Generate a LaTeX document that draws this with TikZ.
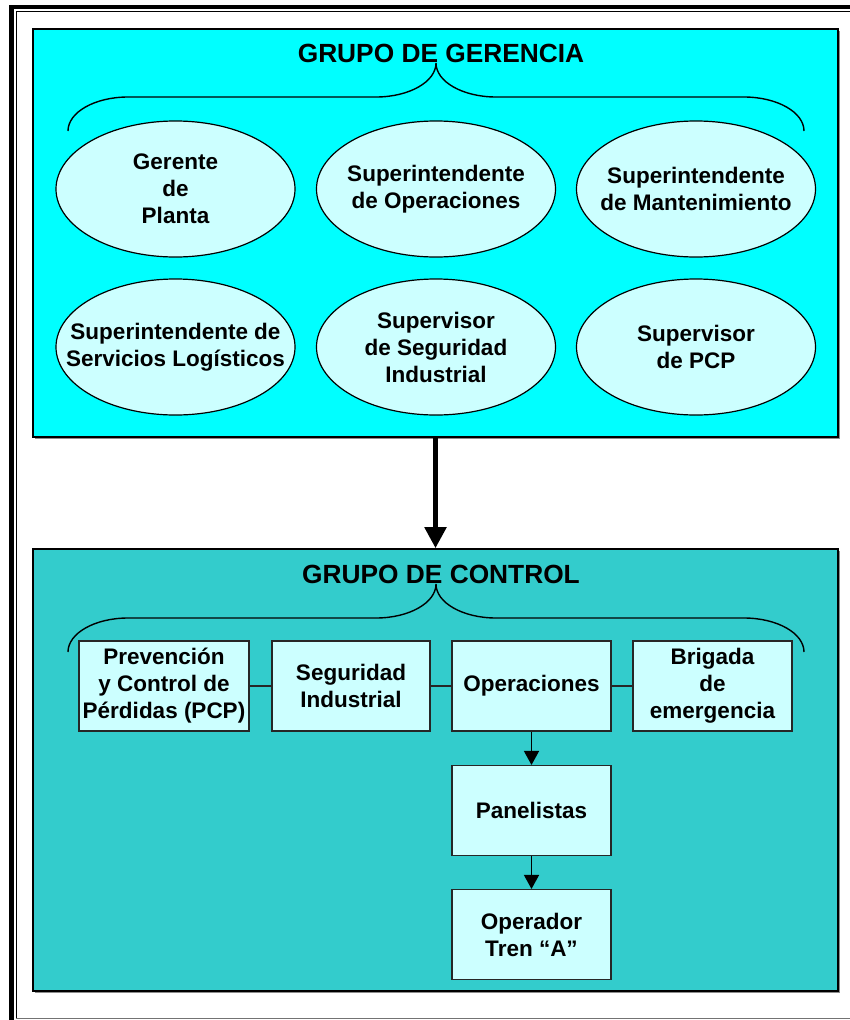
\documentclass[tikz,border=0pt]{standalone}
\usepackage{fontspec}
\setmainfont{Liberation Sans}
\usetikzlibrary{shapes.geometric,arrows.meta}
\definecolor{gerencia}{RGB}{0,255,255}
\definecolor{control}{RGB}{51,204,204}
\definecolor{pale}{RGB}{204,255,255}

\begin{document}
\begin{tikzpicture}[x=1pt,y=-1pt,
  grupo/.style={rectangle,draw=black,line width=1.6pt,fill=#1,inner sep=0pt,
    minimum width=805pt},
  % fixed-size ellipse; its text is set as a centred label so it cannot grow
  puesto/.style={ellipse,draw=black,line width=1.2pt,fill=pale,
    minimum width=239pt,minimum height=136pt,inner sep=0pt,
    label={[align=center,inner sep=0pt,
      font=\bfseries\fontsize{22.5}{27}\selectfont]center:#1}},
  area/.style={rectangle,draw=black!85,line width=1.1pt,fill=pale,
    minimum width=159pt,minimum height=90pt,inner sep=0pt,align=center,
    font=\bfseries\fontsize{22.5}{27}\selectfont},
  titulo/.style={inner sep=0pt,font=\bfseries\fontsize{26.3}{30}\selectfont},
  llave/.style={line width=1.4pt},
  enlace/.style={line width=1.1pt,draw=black!85},
  flecha/.style={line width=1.4pt,-{Triangle[width=15pt,length=14pt]}},
  flechagrande/.style={line width=5pt,-{Triangle[width=21pt,length=21pt]}}
]
\useasboundingbox (0,0) rectangle (850,1020);

% page frame: thick outer rule and thin inner rule
\fill[black] (9,4.8) rectangle (850,9.3);
\fill[black] (9,4.8) rectangle (14,1020);
\draw[line width=1.1pt] (16.2,1018.5) -- (16.2,11.7) -- (850,11.7);
\draw[line width=1.2pt,black!55] (16.2,1018.6) -- (850,1018.6);

% group panels with a light shadow
\fill[black!45] (35,31) rectangle (839.5,438.7);
\fill[black!45] (35,551) rectangle (839.5,992.5);
\node[grupo=gerencia,minimum height=408pt] (gerencia) at (435.5,233) {};
\node[grupo=control,minimum height=442pt] (control) at (435.5,770) {};

\draw[flechagrande] (gerencia.south) -- (control.north);

% titles and braces
\node[titulo] (tgerencia) at (441,53) {GRUPO DE GERENCIA};
\node[titulo] (tcontrol) at (441,574) {GRUPO DE CONTROL};

\foreach \ty in {63,584}{
  \draw[llave,shift={(436,\ty)}]
    (-368,68) .. controls (-368,49.2) and (-341.1,34) .. (-308,34)
    -- (-60,34) .. controls (-26.9,34) and (0,18.8) .. (0,0)
    .. controls (0,18.8) and (26.9,34) .. (60,34)
    -- (308,34) .. controls (341.1,34) and (368,49.2) .. (368,68);
}

% management positions
\node[puesto={Gerente\\de\\Planta}] (gerente) at (175.5,189) {};
\node[puesto={Superintendente\\de Operaciones}] (supop) at (436,189) {};
\node[puesto={Superintendente\\de Mantenimiento}] (supmant) at (696,189) {};
\node[puesto={Superintendente de\\Servicios Logísticos}] (suplog) at (175.5,347) {};
\node[puesto={Supervisor\\de Seguridad\\Industrial}] (supseg) at (436,347) {};
\node[puesto={Supervisor\\de PCP}] (suppcp) at (696,347) {};

% control areas
\node[area,minimum width=170pt] (pcp) at (164,686) {Prevención\\y Control de\\Pérdidas (PCP)};
\node[area,minimum width=158pt] (seguridad) at (351,686) {Seguridad\\Industrial};
\node[area] (operaciones) at (531.5,686) {Operaciones};
\node[area] (brigada) at (712.5,686) {Brigada\\de\\emergencia};
\node[area] (panelistas) at (531.5,810.5) {Panelistas};
\node[area] (operador) at (531.5,934.5) {Operador\\Tren “A”};

\draw[enlace] (pcp) -- (seguridad);
\draw[enlace] (seguridad) -- (operaciones);
\draw[enlace] (operaciones) -- (brigada);
\draw[flecha] (operaciones) -- (panelistas);
\draw[flecha] (panelistas) -- (operador);
\end{tikzpicture}
\end{document}
